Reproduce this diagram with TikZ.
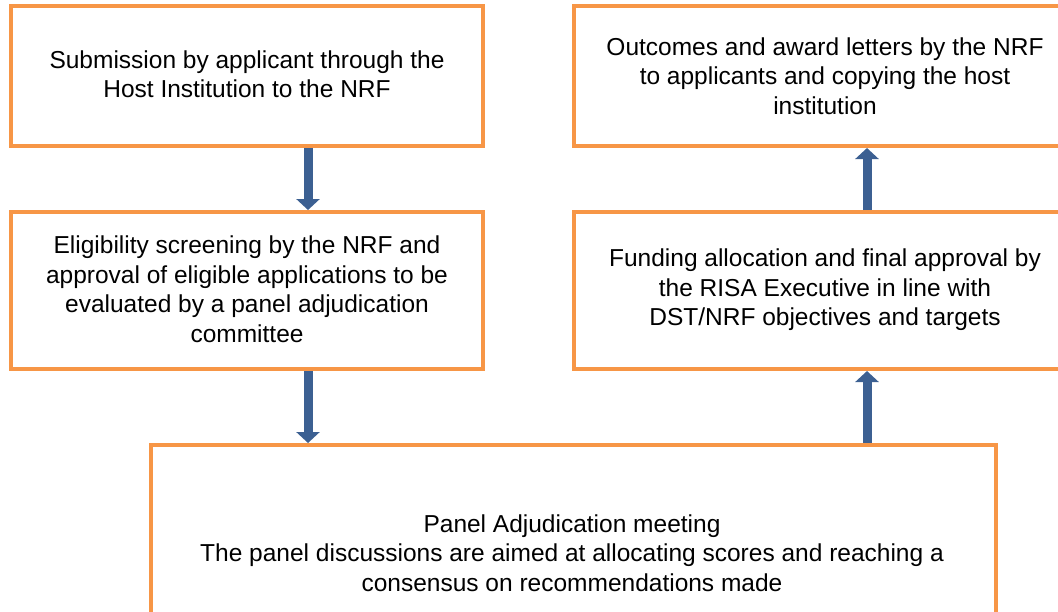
\documentclass[tikz,border=0pt]{standalone}
\usepackage{fontspec}
\setmainfont{Liberation Sans}
\usetikzlibrary{arrows.meta,calc}
\definecolor{boxorange}{HTML}{F79646}
\definecolor{arrowblue}{HTML}{3C6092}
\tikzset{
  box/.style={draw=boxorange, line width=4pt, fill=white, rectangle, inner sep=0pt},
  txt/.style={align=center, font=\fontsize{24.5}{29.5}\selectfont, inner sep=0pt},
  flow/.style={draw=arrowblue, line width=9pt, -{Triangle[width=23pt,length=11pt]}, shorten >=0pt}
}
\begin{document}
\begin{tikzpicture}[x=1pt,y=-1pt]
\useasboundingbox (0,0) rectangle (1058,611);
\clip (0,0) rectangle (1058,611);
% boxes
\node[box, minimum width=472pt, minimum height=140pt] (b1) at (247,76) {};
\node[box, minimum width=472pt, minimum height=157pt] (b2) at (247,290.5) {};
\node[box, minimum width=845pt, minimum height=171pt] (b3) at (573.5,530.5) {};
\node[box, minimum width=502pt, minimum height=140pt] (b4) at (825,76) {};
\node[box, minimum width=502pt, minimum height=157pt] (b5) at (825,290.5) {};
% texts
\node[txt] (t1) at (247,74) {Submission by applicant through the\\Host Institution to the NRF};
\node[txt] (t2) at (247,289) {Eligibility screening by the NRF and\\approval of eligible applications to be\\evaluated by a panel adjudication\\committee};
\node[txt] (t3) at (572,553) {Panel Adjudication meeting\\The panel discussions are aimed at allocating scores and reaching a\\consensus on recommendations made};
\node[txt] (t4) at (825,76) {Outcomes and award letters by the NRF\\to applicants and copying the host\\institution};
\node[txt] (t5) at (825,290) {Funding allocation and final approval by\\the RISA Executive in line with\\DST/NRF objectives and targets};
% connectors
\draw[flow] ([xshift=61pt]b1.south) -- ([xshift=61pt]b1.south |- b2.north);
\draw[flow] ([xshift=61pt]b2.south) -- ([xshift=61pt]b2.south |- b3.north);
\draw[flow] ([xshift=42pt]b5.south |- b3.north) -- ([xshift=42pt]b5.south);
\draw[flow] ([xshift=42pt]b5.north) -- ([xshift=42pt]b5.north |- b4.south);
\end{tikzpicture}
\end{document}
